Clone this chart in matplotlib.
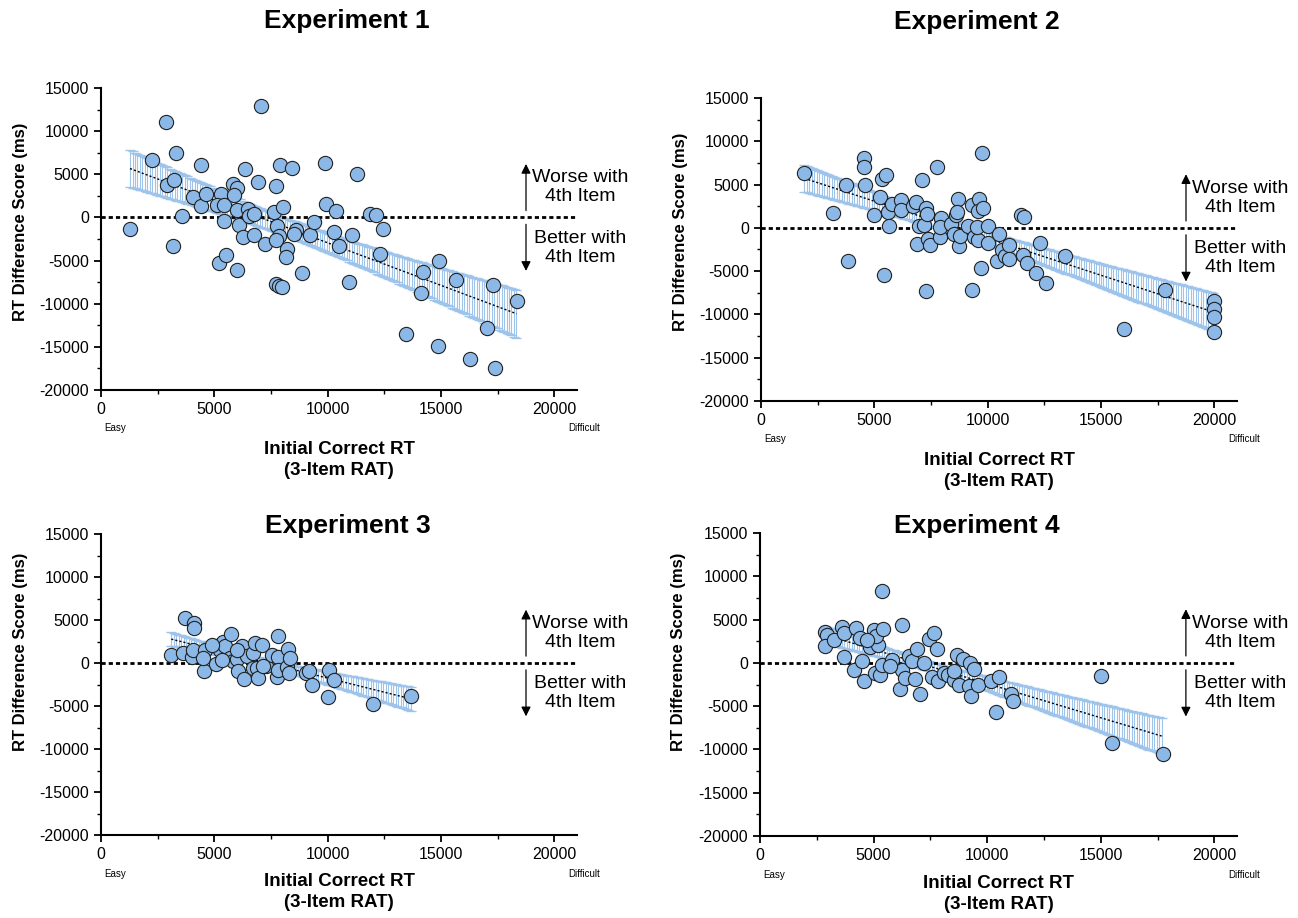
import numpy as np
import matplotlib.pyplot as plt
from matplotlib.ticker import MultipleLocator
import matplotlib.transforms as mtransforms

plt.rcParams['font.family'] = ['Liberation Sans', 'DejaVu Sans']
plt.rcParams['axes.unicode_minus'] = False

# Experiment 1
x1 = [1280, 2870, 2240, 3310, 2900, 3240, 3560, 3190, 4430, 4040, 4430, 4630, 5220, 5520, 5280,
      5100, 5440, 5430, 5810, 5990, 5870, 6370, 6020, 6070, 6250, 6000, 6490, 6520, 6750, 6770,
      6910, 7060, 7220, 7710, 7650, 7880, 8040, 7780, 7850, 7720, 8210, 8150, 7710, 7870, 7970,
      8440, 8590, 8520, 8850, 9220, 9410, 9900, 9910, 10370, 10280, 10520, 10940, 11070, 11290,
      11870, 12130, 12440, 12320, 13460, 14220, 14130, 14910, 14880, 15680, 16290, 17280, 17040,
      17380, 18350]
y1 = [-1350, 11060, 6670, 7440, 3740, 4360, 190, -3280, 6050, 2350, 1270, 2660, -5280, -4360, 2660,
      1430, 1430, -460, 3890, 3390, 2620, 5590, 810, -890, -2280, -6050, 960, 120, 420, -2010,
      4090, 12880, -3050, 3660, 580, 6130, 1160, -1040, -2200, -2660, -3660, -4630, -7710, -7900, -8060,
      5780, -1430, -1890, -6480, -2040, -580, 6320, 1540, 770, -1660, -3350, -7440, -2010, 5090,
      350, 310, -1350, -4240, -13490, -6360, -8750, -5090, -14920, -7210, -16350, -7860, -12760,
      -17430, -9720]

# Experiment 2
x2 = [1910, 3160, 3740, 3820, 4540, 4540, 4590, 5000, 5250, 5320, 5500, 5440, 5590, 5660, 5770,
      6160, 6160, 6690, 6820, 6870, 6970, 7090, 7190, 7280, 7340, 7270, 7380, 7470, 7750, 7900,
      7940, 7880, 8380, 8520, 8590, 8710, 8750, 8780, 9150, 9290, 9290, 9400, 9590, 9630, 9590,
      9540, 9770, 9710, 10030, 10020, 10500, 10400, 10620, 10770, 10960, 10960, 11460, 11600, 11540,
      11740, 12120, 12290, 12560, 13400, 16020, 17820, 20000, 20000, 20000, 20000, 9810, 8630]
y2 = [6280, 1660, 4970, -3860, 8060, 6980, 4970, 1470, 3590, 5590, 6050, -5470, 1850, 270, 2700,
      3200, 2040, 2540, 3010, -1810, 190, 5550, 310, 2350, 1580, -7290, -1230, -2010, 7060, -1040,
      1160, 120, 420, -660, 1470, 3350, -2120, -930, 190, -7210, 2620, -1040, -1430, 3350, 1970,
      120, 8670, -4590, 190, -1740, -660, -3820, -2580, -3240, -2010, -3620, 1430, 1270, -3080,
      -4010, -5200, -1700, -6320, -3280, -11680, -7210, -8440, -9330, -10290, -11990, 2350, 1850]

# Experiment 3
x3 = [3100, 3710, 4120, 4120, 3630, 4000, 4070, 4540, 4590, 4520, 5070, 5100, 5250, 5370, 5470,
      5720, 5690, 5840, 6020, 6060, 6210, 6320, 6430, 6720, 6790, 7090, 6720, 6900, 6910, 7280,
      7530, 7820, 7790, 7750, 7820, 8190, 8310, 8250, 8340, 9040, 9190, 9320, 10040, 10020, 10280,
      12000, 13660, 5990, 4880, 5320, 7160]
y3 = [960, 5230, 4620, 4120, 1150, 690, 1540, -890, 1460, 580, -80, 2000, 1540, 2390, 1920,
      3390, 580, 190, 460, -890, 1920, -1810, 770, 1150, 2310, 2120, -580, -580, -1730, -390,
      960, 3120, 650, -1620, -770, -460, -1150, 1620, 580, -1150, -890, -2580, -770, -3920, -2000,
      -4810, -3810, 1540, 2120, 390, -390]

# Experiment 4
x4 = [2870, 2970, 2840, 3240, 3600, 3720, 3680, 4220, 4410, 4150, 4490, 4560, 4850, 5000, 5070,
      5180, 5120, 5290, 5350, 5410, 5370, 5810, 6180, 6250, 6250, 6400, 6570, 6690, 6840, 6910,
      7060, 7210, 7460, 7680, 7790, 7570, 7820, 8090, 8270, 8560, 8680, 8940, 8750, 9240, 9410,
      9190, 9310, 9590, 10180, 10520, 10410, 11060, 11130, 15000, 15490, 17750, 4710, 8530, 5740]
y4 = [3540, 3270, 2000, 2690, 4150, 690, 3460, 4040, 2880, -770, 190, -2150, 1850, 3850, -1150,
      2120, 3150, -1350, 8350, 3960, -190, 380, -3000, 4380, -770, -1730, 770, 190, -1920, 1620,
      -3540, 0, 2810, 3460, 1650, -1620, -2120, -1150, -1420, -2000, 850, 500, -2500, 0, -690,
      -2620, -3850, -2500, -2120, -1620, -5690, -3580, -4350, -1540, -9230, -10500, 2690, -960, -380]

titles = ["Experiment 1", "Experiment 2", "Experiment 3", "Experiment 4"]

W, H = 1298, 918
# axes boxes in pixels: left, top, right, bottom
boxes = [(101, 88, 577, 390), (761, 98, 1237, 401), (101, 534, 577, 835), (760, 533, 1237, 836)]
title_pos = [(347, 21), (977, 22), (348, 526), (977, 526)]
ylab_y = [0.557, 0.557, 0.608, 0.608]
xlab_y = [-0.232, -0.232, -0.19, -0.19]
easy_y = [-0.126, -0.126, -0.13, -0.13]

point_col = '#8bb8e6'
band_col = '#9ec4ec'

fig = plt.figure(figsize=(W / 100, H / 100), dpi=100)

data = [(x1, y1), (x2, y2), (x3, y3), (x4, y4)]
for i, (xd, yd) in enumerate(data):
    l, t, r, b = boxes[i]
    ax = fig.add_axes([l / W, 1 - b / H, (r - l) / W, (b - t) / H])
    x = np.array(xd, dtype=float)
    y = np.array(yd, dtype=float)

    # linear fit + 95% CI of the fitted line
    n = len(x)
    slope, icpt = np.polyfit(x, y, 1)
    xs = np.arange(x.min(), x.max() + 1, 110)
    yhat = slope * xs + icpt
    resid = y - (slope * x + icpt)
    s = np.sqrt(np.sum(resid ** 2) / (n - 2))
    sxx = np.sum((x - x.mean()) ** 2)
    ci = 1.99 * s * np.sqrt(1.0 / n + (xs - x.mean()) ** 2 / sxx)

    ax.errorbar(xs, yhat, yerr=ci, fmt='none', ecolor=band_col, elinewidth=0.8,
                capsize=3.5, capthick=1.0, zorder=1)
    ax.plot(xs, yhat, color='black', lw=1, ls=(0, (1.5, 1.5)), zorder=2)
    ax.axhline(0, color='black', lw=2, ls=(0, (1.5, 1.1)), zorder=1.5)
    ax.scatter(x, y, s=105, c=point_col, edgecolors='#222222', linewidths=0.8,
               zorder=3, clip_on=False)

    ax.set_xlim(0, 21000)
    ax.set_ylim(-20000, 15000)
    ax.xaxis.set_major_locator(MultipleLocator(5000))
    ax.xaxis.set_minor_locator(MultipleLocator(2500))
    ax.yaxis.set_major_locator(MultipleLocator(5000))
    ax.yaxis.set_minor_locator(MultipleLocator(2500))
    ax.spines['top'].set_visible(False)
    ax.spines['right'].set_visible(False)
    ax.spines['left'].set_linewidth(1.5)
    ax.spines['bottom'].set_linewidth(1.5)
    ax.tick_params(which='major', length=5, width=1.3, labelsize=11.5, direction='out')
    ax.tick_params(which='minor', length=3, width=1.0, direction='out')

    ax.set_xlabel("Initial Correct RT\n(3-Item RAT)", fontsize=13.5, fontweight='bold',
                  linespacing=1.3, va='center')
    ax.xaxis.set_label_coords(0.5, xlab_y[i])
    ax.set_ylabel("RT Difference Score (ms)", fontsize=12, fontweight='bold', va='center')
    ax.yaxis.set_label_coords(-0.170, ylab_y[i])

    trans = mtransforms.blended_transform_factory(ax.transData, ax.transAxes)
    ax.text(620, easy_y[i], "Easy", transform=trans, fontsize=7, ha='center', va='center')
    ax.text(21320, easy_y[i], "Difficult", transform=trans, fontsize=7, ha='center', va='center')

    # direction hints
    ax.annotate('', xy=(18750, 6200), xytext=(18750, 800),
                arrowprops=dict(arrowstyle='-|>', color='black', lw=0.9,
                                mutation_scale=14, shrinkA=0, shrinkB=0))
    ax.annotate('', xy=(18750, -6200), xytext=(18750, -800),
                arrowprops=dict(arrowstyle='-|>', color='black', lw=0.9,
                                mutation_scale=14, shrinkA=0, shrinkB=0))
    ax.text(21150, 3500, "Worse with\n4th Item", ha='center', va='center', fontsize=14,
            linespacing=1.15, clip_on=False)
    ax.text(21150, -3500, "Better with\n4th Item", ha='center', va='center', fontsize=14,
            linespacing=1.15, clip_on=False)

    tx, ty = title_pos[i]
    fig.text(tx / W, 1 - ty / H, titles[i], ha='center', va='center', fontsize=19,
             fontweight='bold')

fig.savefig("out.png", dpi=100)
